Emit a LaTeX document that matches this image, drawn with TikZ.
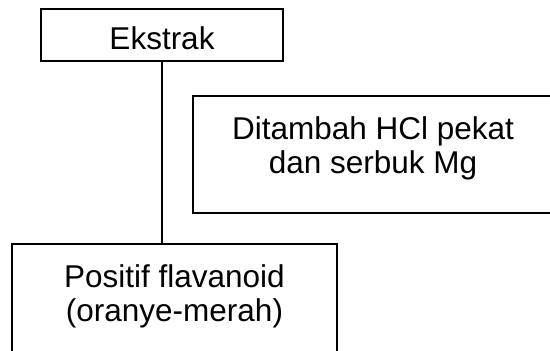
\documentclass[tikz,border=0pt]{standalone}
\usepackage{fontspec}
\setmainfont{Liberation Sans}
\begin{document}
\begin{tikzpicture}[x=1pt,y=1pt,
  stepbox/.style={draw, line width=1.6pt, inner sep=0pt, outer sep=0pt,
    align=center, font=\fontsize{31.5}{34}\selectfont},
  link/.style={line width=1.6pt}]
  % page area; the right and lower boxes run past its edges
  \clip (0,0) rectangle (550,-351);
  \node[stepbox, minimum width=242pt, minimum height=52pt,
        text height=28.6pt, text depth=0pt] (ekstrak) at (162,-35) {Ekstrak};
  \node[stepbox, minimum width=360pt, minimum height=117pt,
        text height=56pt, text depth=19pt] (reagen) at (373,-154.5)
        {Ditambah HCl pekat\\dan serbuk Mg};
  \node[stepbox, minimum width=325pt, minimum height=120pt,
        text height=56pt, text depth=22pt] (hasil) at (174.5,-304)
        {Positif flavanoid\\(oranye-merah)};
  \draw[link] (ekstrak.south) -- (ekstrak.south |- hasil.north);
\end{tikzpicture}
\end{document}
